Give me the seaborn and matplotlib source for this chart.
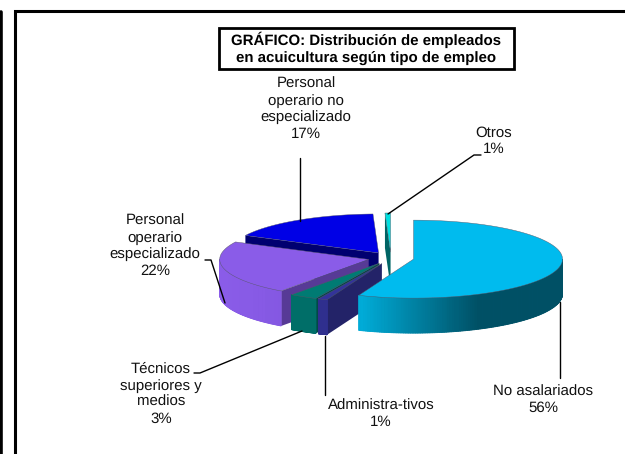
import numpy as np
import matplotlib
matplotlib.use("Agg")
import matplotlib.pyplot as plt
import seaborn as sns

sns.set_theme(style="white")
plt.rcParams['font.family'] = ['Liberation Sans', 'DejaVu Sans']
plt.rcParams['text.hinting'] = 'no_hinting'
plt.rcParams['text.hinting_factor'] = 1

# clockwise from 12 o'clock
names = ["No asalariados", "Administra-tivos", "Técnicos\nsuperiores y\nmedios",
         "Personal\noperario\nespecializado", "Personal\noperario no\nespecializado", "Otros"]
values = [56, 1, 3, 22.4, 17, 0.6]
top_colors = ["#00BBEE", "#333399", "#007B73", "#8A5CE8", "#0000E6", "#00E0E0"]
wall_light = ["#00ACD8", "#2F2F8E", "#006E68", "#8A5CE8", "#000080", "#006E6E"]
wall_dark = ["#005065", "#2F2F8E", "#006E68", "#7E55DC", "#000080", "#006E6E"]
cut_colors = ["#005065", "#232368", "#004A46", "#573A96", "#000070", "#006464"]
label_pos = [(543, 400), (381, 414), (161, 394), (155, 246), (306, 109), (494, 141)]
leaders = [
    [(560, 302), (560, 378)],
    [(325, 336), (325, 395)],
    [(194, 373), (200, 373), (302, 331)],
    [(205, 260), (211, 260), (225, 303)],
    [(300, 221), (300, 158)],
    [(388, 214), (474, 155), (481, 155)],
]
title = "GRÁFICO: Distribución de empleados\nen acuicultura según tipo de empleo"

cx, cy = 391, 258
rx, ry = 149, 39
depth = 35
explode = 0.154


def rim(c, angles):
    return c[0] + rx * np.sin(angles), c[1] - ry * np.cos(angles)


fig = plt.figure(figsize=(6.25, 4.54), dpi=100)
ax = fig.add_axes([0, 0, 1, 1])
ax.set_xlim(0, 625)
ax.set_ylim(454, 0)
ax.axis("off")

# page frame
ax.plot([15, 15, 625], [454, 10.5, 10.5], color="black", lw=2.2, solid_joinstyle="miter")
ax.plot([1, 1], [12, 454], color="black", lw=2.6)

edges = np.cumsum([0] + values) / sum(values) * 2 * np.pi
slices = []
for i in range(len(values)):
    mid = (edges[i] + edges[i + 1]) / 2
    c = (cx + explode * rx * np.sin(mid), cy - explode * ry * np.cos(mid))
    slices.append((i, edges[i], edges[i + 1], c))

# back to front, cyan goes last because it covers the navy cut
for i, a0, a1, c in [slices[j] for j in (5, 4, 3, 2, 1, 0)]:
    # radial cut
    if np.sin(a0) < 0:
        ex, ey = rim(c, np.array([a0]))
        ax.fill([c[0], ex[0], ex[0], c[0]], [c[1], ey[0], ey[0] + depth, c[1] + depth],
                color=cut_colors[i], lw=0)
    # outer wall, strips so the shading can change along the arc
    lo, hi = max(a0, np.pi / 2), min(a1, 3 * np.pi / 2)
    if hi > lo:
        steps = np.linspace(lo, hi, 121)
        pal = sns.blend_palette([wall_light[i], wall_dark[i]], 101)
        xs, ys = rim(c, steps)
        ax.fill(np.r_[xs, xs[::-1]], np.r_[ys, ys[::-1] + depth], color=pal[50], lw=0)
        for s0, s1 in zip(steps[:-1], steps[1:]):
            xs, ys = rim(c, np.array([s0, s1]))
            t = np.clip((xs.mean() - 360) / 117, 0, 1) if i == 0 else (xs.mean() - 220) / 150
            col = pal[int(np.clip(t, 0, 1) * 100)]
            ax.fill([xs[0], xs[1], xs[1], xs[0]], [ys[0], ys[1], ys[1] + depth, ys[0] + depth],
                    facecolor=col, edgecolor=col, lw=0.6)
    # top face
    arc = np.linspace(a0, a1, 80)
    xs, ys = rim(c, arc)
    ax.fill(np.r_[c[0], xs], np.r_[c[1], ys], facecolor=top_colors[i],
            edgecolor="#555566", lw=0.3, joinstyle="round")

for pts in leaders:
    ax.plot(*zip(*pts), color="black", lw=1.0)

for name, v, (x, y) in zip(names, values, label_pos):
    ax.text(x, y, f"{name}\n{round(v)}%", ha="center", va="center", fontsize=11.0,
            linespacing=1.27, color="#111111")

ax.text(366.5, 48.5, title, ha="center", va="center", fontsize=10.8, fontweight="bold",
        linespacing=1.25, color="black")
ax.add_patch(plt.Rectangle((219, 28), 295, 41, fill=False, edgecolor="black", lw=2.0))

fig.savefig("out.png", dpi=100)
